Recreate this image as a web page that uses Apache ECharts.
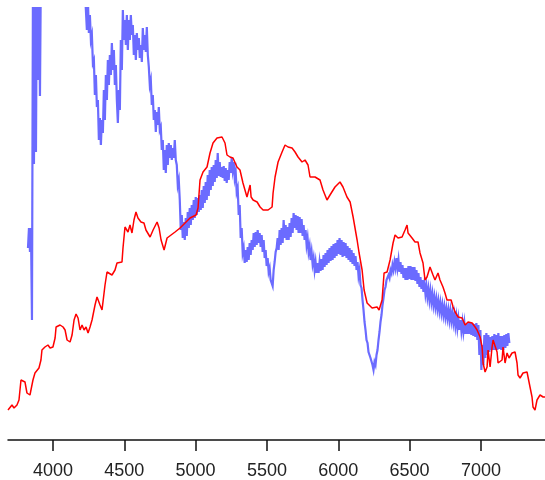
<!DOCTYPE html>
<html>
<head>
<meta charset="utf-8">
<script src="https://cdn.jsdelivr.net/npm/echarts@6/dist/echarts.min.js"></script>
<style>
html,body{margin:0;padding:0;background:#fff;}
#chart{width:545px;height:480px;}
</style>
</head>
<body>
<div id="chart"></div>
<script>
// x-axis tick labels (wavelength, Angstrom)
var xTicks = [4000, 4500, 5000, 5500, 6000, 6500, 7000];

// Red spectrum: [wavelength, flux]
var redSpectrum = [
[3685,7.5],[3713,8.75],[3727,8],[3748,8.75],[3762,10],[3776,15],[3790,15.5],[3804,14.5],[3818,11.75],[3839,11.25],
[3846,10.75],[3860,15],[3874,16.75],[3888,17.25],[3902,18],[3916,20],[3923,22.5],[3944,23.25],[3965,23.75],[3980,23],
[4000,23.25],[4015,25.5],[4022,28.25],[4050,28.75],[4071,28.25],[4085,27.5],[4099,25],[4120,24.5],[4134,26.25],[4148,30],
[4162,31.5],[4176,30.5],[4190,27.5],[4204,28.75],[4218,27.5],[4232,28.25],[4246,26.75],[4260,28.25],[4274,30],[4295,33.75],
[4309,35.75],[4330,33.75],[4344,32.5],[4365,38.75],[4379,42],[4414,41.25],[4435,42.5],[4449,44.25],[4484,44.5],[4491,48],
[4505,53.25],[4526,52],[4540,53.75],[4554,51.75],[4568,55],[4582,57],[4596,55.5],[4617,54.5],[4638,54.25],[4652,52.5],
[4681,50.75],[4702,52.5],[4730,54.5],[4744,53],[4758,50],[4779,47.5],[4800,50.5],[4828,51.25],[4856,52],[4891,53],
[4912,53.75],[4961,55.5],[5003,56.25],[5017,58],[5031,65],[5052,67],[5080,68.25],[5101,71.75],[5122,74.25],[5150,75.5],
[5185,75.75],[5206,74.25],[5220,71.25],[5241,70.75],[5262,70.5],[5290,68.25],[5311,67.5],[5332,64.25],[5360,60.75],[5382,63.75],
[5389,60.75],[5403,60],[5431,59.5],[5452,58.25],[5473,57.5],[5508,57.5],[5536,58.25],[5543,61.75],[5557,65.75],[5578,69.5],
[5606,72],[5627,73.75],[5648,73.25],[5676,73],[5697,72],[5718,70.75],[5746,69.5],[5767,70],[5788,68.75],[5802,65.75],
[5837,65.75],[5872,65],[5893,62.5],[5921,60],[5942,61.25],[5977,63.25],[6012,64.5],[6033,63.25],[6061,60.75],[6083,59.5],
[6104,55.75],[6132,50],[6146,46.75],[6167,42.5],[6181,37.5],[6202,34.25],[6237,33],[6272,33.25],[6286,32.5],[6307,35],
[6321,41.75],[6342,42],[6363,45],[6384,49.25],[6398,51.25],[6419,50.5],[6447,50.75],[6468,52.5],[6482,53.75],[6489,51.75],
[6517,50.5],[6538,49.5],[6559,49.5],[6573,46.75],[6594,44.25],[6608,40],[6622,40.75],[6643,43.25],[6657,43],[6664,41.25],
[6678,40],[6699,41.75],[6713,40],[6734,38.25],[6748,36.75],[6762,35],[6791,35],[6805,33.25],[6819,32],[6840,30.75],
[6868,30.5],[6889,28.75],[6910,29.5],[6938,29.25],[6959,28.25],[6973,27.5],[6994,25.75],[7008,23.25],[7015,19.25],[7029,17],
[7043,18.25],[7050,22.5],[7064,18.25],[7078,23.25],[7085,25],[7113,22],[7120,19.25],[7134,18.75],[7148,20],[7155,23.25],
[7169,19.25],[7183,21.75],[7197,20.5],[7218,21.75],[7239,22],[7253,19.25],[7260,16.25],[7274,15.5],[7295,16.75],[7323,17],
[7330,15.75],[7344,13.25],[7358,10.75],[7365,8.25],[7379,7.5],[7393,10],[7414,11.25],[7436,10.75],[7449,10.75]
];

// Blue spectrum: regular wavelength grid (start, step) and flux samples
var blueWaveStart = 3825;
var blueWaveStep = 7;
var blueFlux = [
/*3825*/ 48,53,47,53,30,115,69,120,72,120,
/*3895*/ 90,120,86,120,125,130,128,135,132,140,
/*3965*/ 138,145,142,148,145,150,147,152,150,155,
/*4035*/ 152,150,148,152,150,147,150,146,148,144,
/*4105*/ 146,142,140,138,136,134,132,130,128,126,
/*4175*/ 124,122,120,118,116,115,114,112,107.5,102.5,
/*4245*/ 110,101.75,106.25,100,101.25,94.25,95,86.25,91.25,83.25,
/*4315*/ 85,75,80.5,73.75,80,76.75,87.5,80,91.25,85,
/*4385*/ 95,88.75,96.25,91.25,99.25,92.5,97.5,88.75,93.75,85,
/*4455*/ 79.25,87.5,82.5,100,92.5,107.5,100,105,98.75,106.25,
/*4525*/ 97.5,105,100,106.25,101.25,103.75,96.25,101.25,95,101.75,
/*4595*/ 97.5,100.5,95.5,98.75,94.5,103,97.5,101.25,97,103.25,
/*4665*/ 96.25,93.25,88.75,90,83.75,86.25,80,82.5,77,82,
/*4735*/ 78.75,83.25,77.5,78.25,72.5,75,67.5,72.5,66.75,73.75,
/*4805*/ 68.75,74.25,70.5,73.75,70,73,70.5,75,70,68.75,
/*4875*/ 63.75,65,60,52.5,56.25,50.5,54.5,50,55.5,51,
/*4945*/ 57,53,58,53.75,58.75,55,60,55.5,60.75,56.25,
/*5015*/ 60.5,57,61.25,57.5,62.5,58,63.5,59.25,64.5,60,
/*5085*/ 66.25,61,67.5,62.5,68.25,63.5,68.75,64.5,70,65.5,
/*5155*/ 71.75,66,69.5,65.75,68.25,65.5,68.5,64.75,68,64.25,
/*5225*/ 67.5,65,69.5,66.75,70.5,67.5,69.5,65.5,67,62,
/*5295*/ 63,56.25,58.75,50.5,53,46.75,48,44.25,47.5,44.5,
/*5365*/ 48.25,45,49.25,46.25,50,47.5,51.75,48.25,52,48.75,
/*5435*/ 52.5,49.25,51.75,48.25,51.25,47,50,45.5,47.5,43.5,
/*5505*/ 45.5,42,43,40,40.5,38.5,42.5,44.5,47,48,
/*5575*/ 50.5,47.5,52.5,48.75,53,49.25,55,50.5,53.75,50,
/*5645*/ 53.25,50,54.25,50.75,55.5,51.75,56.75,53,56.25,52.5,
/*5715*/ 56,51.75,55.75,51.75,55.25,51,53.75,50,52.5,48.75,
/*5785*/ 50.5,47,48.5,45,47,44,45.5,42.5,44.5,41.75,
/*5855*/ 44.25,41.75,44.5,42.25,45.25,42.5,46.25,43.25,46.75,43.75,
/*5925*/ 47.5,44.25,48,44.75,48.5,45,49,45.5,49.25,46,
/*5995*/ 50,46.5,50.5,46.25,50,45.75,49.5,46,49.25,45.5,
/*6065*/ 48.5,45,48,44.5,47.5,44,46.75,43.5,46,42.5,
/*6135*/ 44.5,41,42.5,38.75,38,35,32.5,29.5,27.5,25,
/*6205*/ 24.25,22,22.5,20.5,21,18.75,17.5,19.5,18.75,21.25,
/*6275*/ 22.5,25,27,29.5,31.25,33.75,35.5,37.5,38.25,40,
/*6345*/ 39.5,41.25,40.5,42.5,41.75,43.75,42.5,44.5,43,45.5,
/*6415*/ 43,45,42,44.5,41.5,43.75,40.5,43,40,43,
/*6485*/ 40,43.5,40.25,43.5,40,43.25,40,43.25,39.75,42.5,
/*6555*/ 39,41.75,38.25,40.75,37.75,40,37,39.25,36.5,38.5,
/*6625*/ 35.75,37.75,35,37.25,34.5,36.5,33.75,35.75,33.25,35.25,
/*6695*/ 32.75,34.75,32.25,34.25,31.75,33.75,31.25,33.25,30.75,32.75,
/*6765*/ 30.5,32.5,30,32.25,29.75,31.75,29.25,31.25,28.5,30.75,
/*6835*/ 28,30.25,27.5,30,27.25,29.5,27,29.25,26.5,29,
/*6905*/ 26.5,29.25,26.5,29.25,26.25,29.25,26,29,25.75,29.25,
/*6975*/ 25,28.75,21.25,27.5,17.5,23.75,18.75,26.25,20.5,26.75,
/*7045*/ 21.25,26.25,22,25.75,22.5,26,22.5,26.5,22.5,26.25,
/*7115*/ 22.5,26.75,22.75,26,22.5,26,22.5,26.25,23,26.5,
/*7185*/ 23.5,26.75,24.25
];

var blueSpectrum = blueFlux.map(function (v, i) {
  return [blueWaveStart + i * blueWaveStep, v];
});

var chart = echarts.init(document.getElementById('chart'), null, {renderer: 'canvas'});
chart.setOption({
  animation: false,
  backgroundColor: '#ffffff',
  grid: {left: 8, right: 0, top: 8, bottom: 40, containLabel: false, outerBoundsMode: 'none'},
  xAxis: {
    type: 'value',
    min: 3685,
    max: 7449,
    axisLine: {show: true, lineStyle: {color: '#111', width: 1.5}},
    axisTick: {show: true, customValues: xTicks, length: 11, lineStyle: {color: '#111', width: 1.5}},
    axisLabel: {
      show: true, customValues: xTicks, fontSize: 18, color: '#222',
      fontFamily: 'Liberation Sans, Arial, sans-serif', margin: 22,
      formatter: function (v) { return String(v); }
    },
    splitLine: {show: false}
  },
  yAxis: {
    type: 'value',
    min: 0,
    max: 108,
    show: false,
    splitLine: {show: false}
  },
  series: [
    {
      type: 'line',
      data: blueSpectrum,
      showSymbol: false,
      clip: true,
      silent: true,
      sampling: null,
      lineStyle: {color: '#6b6bff', width: 2.2, join: 'miter'},
      z: 2
    },
    {
      type: 'line',
      data: redSpectrum,
      showSymbol: false,
      clip: true,
      silent: true,
      lineStyle: {color: '#ff0000', width: 1.5},
      z: 3
    }
  ]
});
</script>
</body>
</html>
